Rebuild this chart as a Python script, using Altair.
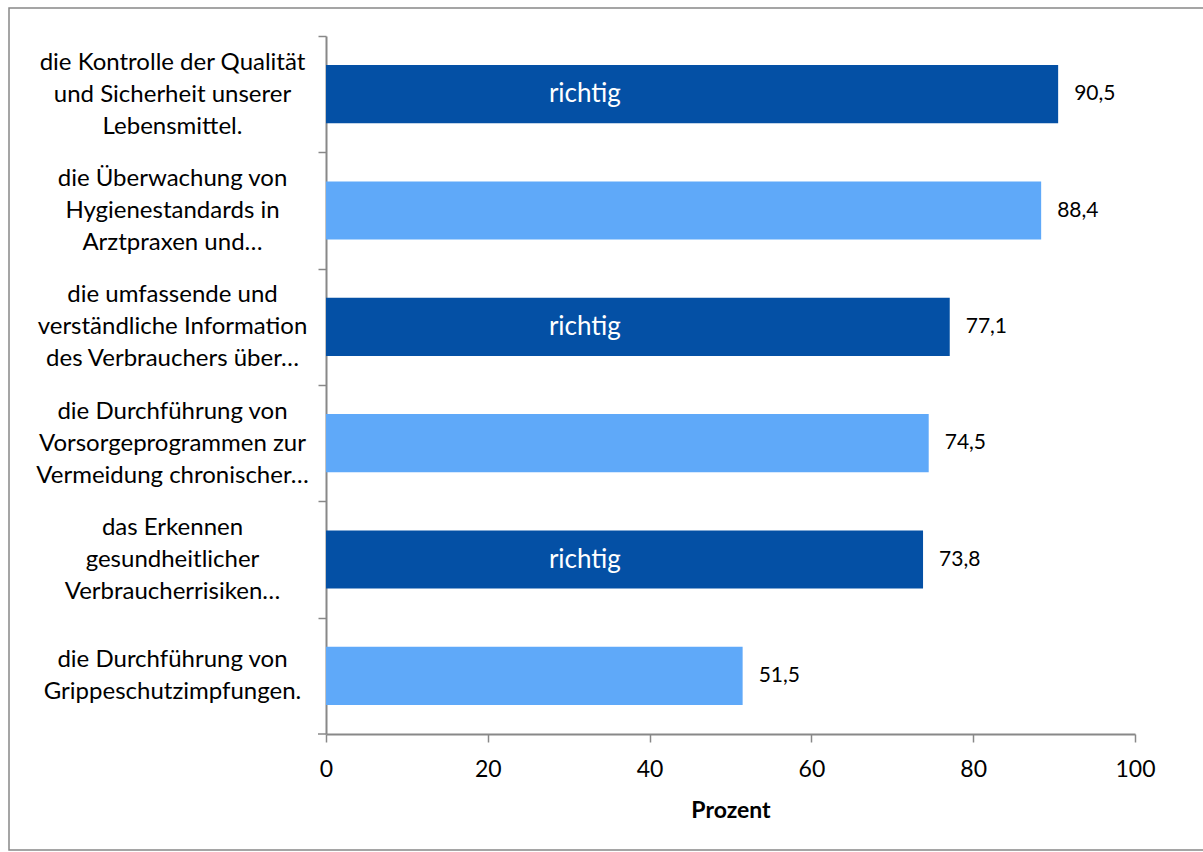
import altair as alt
import pandas as pd

# Survey items (line breaks marked with "|")
items = [
    "die Kontrolle der Qualität|und Sicherheit unserer|Lebensmittel.",
    "die Überwachung von|Hygienestandards in|Arztpraxen und…",
    "die umfassende und|verständliche Information|des Verbrauchers über…",
    "die Durchführung von|Vorsorgeprogrammen zur|Vermeidung chronischer…",
    "das Erkennen|gesundheitlicher|Verbraucherrisiken…",
    "die Durchführung von|Grippeschutzimpfungen.",
]
percent = [90.5, 88.4, 77.1, 74.5, 73.8, 51.5]
notes = ["richtig", "", "richtig", "", "richtig", ""]

DARK = "#0450A5"
LIGHT = "#5FA9F9"
GREY = "#888888"
FONT = "Lato"

W, H = 809, 698
STEP = H / len(items)  # band step of the category axis
LINE_H = 32            # line height of the category labels

df = pd.DataFrame({"item": items, "percent": percent, "note": notes})
df["kind"] = ["richtig" if n else "sonst" for n in notes]

y_enc = alt.Y(
    "item:N",
    sort=items,
    scale=alt.Scale(paddingInner=0.5, paddingOuter=0.25),
    axis=alt.Axis(
        title=None,
        labelExpr="split(datum.label, '|')",
        labelAlign="center",
        # centre each label block vertically on its bar
        labelBaseline={
            "condition": {
                "test": "length(split(datum.value, '|')) > 2",
                "value": "line-bottom",
            },
            "value": "middle",
        },
        labelLineHeight=LINE_H,
        labelFontSize=24,
        labelPadding=146,
        labelLimit=400,
        labelColor="black",
        # ticks sit on the boundaries between categories
        tickOffset=-STEP / 2,
        labelOffset=STEP / 2 - LINE_H / 2,
        tickSize=8,
        tickColor=GREY,
        tickWidth=1.5,
        domainColor=GREY,
        domainWidth=2,
        grid=False,
    ),
)

x_enc = alt.X(
    "percent:Q",
    scale=alt.Scale(domain=[0, 100], nice=False),
    axis=alt.Axis(
        title="Prozent",
        titleFontSize=23,
        titleFontWeight="bold",
        titleColor="black",
        titlePadding=18,
        values=[0, 20, 40, 60, 80, 100],
        labelFontSize=23,
        labelColor="black",
        labelPadding=16,
        labelFlush=False,
        tickSize=8,
        tickColor=GREY,
        tickWidth=1.5,
        domainColor=GREY,
        domainWidth=2,
        grid=False,
    ),
)

base = alt.Chart(df)

bars = base.mark_bar().encode(
    x=x_enc,
    y=y_enc,
    color=alt.Color(
        "kind:N",
        scale=alt.Scale(domain=["richtig", "sonst"], range=[DARK, LIGHT]),
        legend=None,
    ),
)

values = base.transform_calculate(
    label="replace(format(datum.percent, '.1f'), '.', ',')"
).mark_text(align="left", baseline="middle", dx=16, fontSize=21, font=FONT, color="black").encode(
    x="percent:Q",
    y=alt.Y("item:N", sort=items),
    text="label:N",
)

tags = base.transform_filter("datum.note != ''").mark_text(
    align="center", baseline="middle", fontSize=26, font=FONT, color="white"
).encode(
    x=alt.datum(32),
    y=alt.Y("item:N", sort=items),
    text="note:N",
)

# closing tick of the category axis at its lower end
end_tick = alt.Chart(pd.DataFrame({"f": [0]})).mark_rule(color=GREY, strokeWidth=1.5).encode(
    x=alt.value(-8), x2=alt.value(0), y=alt.value(H)
)

# outer frame around the whole figure
frame = alt.Chart(pd.DataFrame({"f": [0]})).mark_rect(
    fill="transparent", stroke=GREY, strokeWidth=1.5
).encode(
    x=alt.value(-317), x2=alt.value(900), y=alt.value(-28), y2=alt.value(814)
)

chart = (
    alt.layer(frame, bars, values, tags, end_tick)
    .properties(
        width=W,
        height=H,
        padding={"left": 326, "top": 36, "right": 68, "bottom": 118},
        autosize=alt.AutoSizeParams(type="none"),
        background="white",
    )
    .configure(font=FONT)
    .configure_view(stroke=None)
)

chart.save("out.html", embed_options={"renderer": "svg", "actions": False})
